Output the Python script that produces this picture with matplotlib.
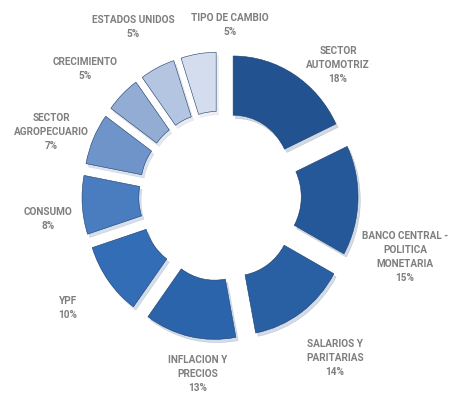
import matplotlib
matplotlib.use("Agg")
import matplotlib.pyplot as plt
import numpy as np

categories = ["SECTOR\nAUTOMOTRIZ", "BANCO CENTRAL -\nPOLITICA\nMONETARIA", "SALARIOS Y\nPARITARIAS",
              "INFLACION Y\nPRECIOS", "YPF", "CONSUMO", "SECTOR\nAGROPECUARIO", "CRECIMIENTO",
              "ESTADOS UNIDOS", "TIPO DE CAMBIO"]
values = [18, 15, 14, 13, 10, 8, 7, 5, 5, 5]
colors = ["#22528f", "#255899", "#295fa3", "#2c64ab", "#336db5", "#497dbf",
          "#6f94c9", "#93acd4", "#b3c5e1", "#d3ddee"]
# label placement style: radius and angular shift from each wedge's bisector
label_r = [1.52, 1.71, 1.70, 1.52, 1.64, 1.53, 1.58, 1.60, 1.62, 1.45]
label_shift = [-10.8, -15.7, 0.5, 5.2, -0.8, 3.7, 3.3, 2.9, 1.3, -12.5]

plt.rcParams['font.family'] = ['Roboto', 'DejaVu Sans']

fig = plt.figure(figsize=(4.52, 3.93), dpi=100)
ax = fig.add_axes([0, 0, 1, 1])
wedges, _ = ax.pie(values, startangle=90, counterclock=False, colors=colors,
                   explode=[0.216] * len(values), radius=1.0,
                   shadow={'ox': 0.015, 'oy': -0.02, 'shade': 0.2, 'alpha': 0.2},
                   wedgeprops=dict(width=0.5, edgecolor="#1c3c6a", linewidth=0.4))

for w, lab, v, r, s in zip(wedges, categories, values, label_r, label_shift):
    ang = np.deg2rad((w.theta1 + w.theta2) / 2 + s)
    x, y = r * np.cos(ang), r * np.sin(ang)
    ax.text(x, y, f"{lab}\n{v}%", ha="center", va="center", fontsize=7.2,
            fontweight="bold", color="#7f7f7f", linespacing=1.5)

px_x, px_y = 113.5, 118.4
cx, cy = 220.0, 196.0
ax.set_xlim(-cx / px_x, (452 - cx) / px_x)
ax.set_ylim(-(393 - cy) / px_y, cy / px_y)
ax.set_aspect("auto")
ax.axis("off")
fig.savefig("out.png", dpi=100)
